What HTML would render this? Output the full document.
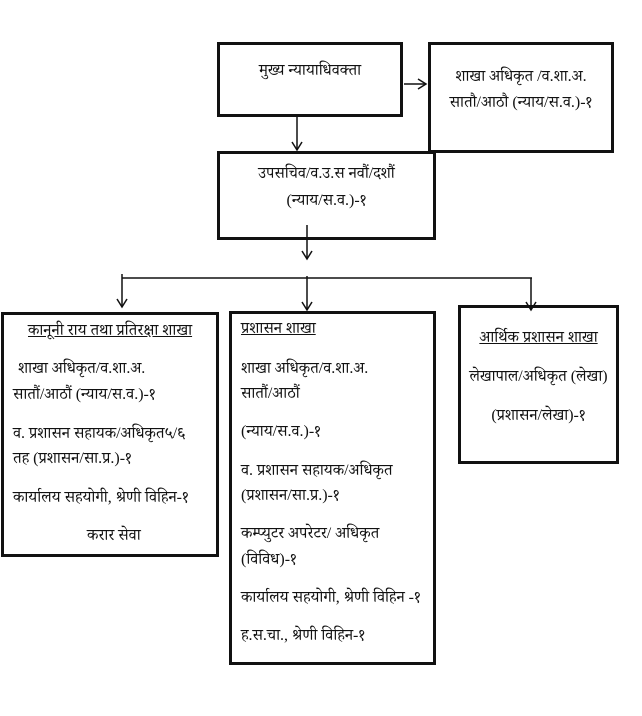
<!DOCTYPE html>
<html><head><meta charset="utf-8"><style>
body{margin:0;background:#fff;width:642px;height:716px;position:relative;overflow:hidden;font-family:"Liberation Serif","Noto Serif Devanagari","Noto Sans Devanagari",serif;font-size:16px;color:#111}
.b{position:absolute;border:3px solid #111;box-sizing:border-box}
.t{position:absolute;white-space:nowrap;line-height:16px}
.c{text-align:center}
u{text-decoration:underline}
svg{position:absolute;left:0;top:0}
</style></head><body>
<div class="b" style="left:217px;top:42px;width:186px;height:75px"></div>
<div class="b" style="left:428px;top:42px;width:186px;height:111px"></div>
<div class="b" style="left:217px;top:151px;width:219px;height:89px"></div>
<div class="b" style="left:1px;top:312px;width:218px;height:245px"></div>
<div class="b" style="left:229px;top:311px;width:207px;height:354px"></div>
<div class="b" style="left:458px;top:305px;width:161px;height:159px"></div>
<svg width="642" height="716">
<g stroke="#111" stroke-width="1.5" fill="none">
<line x1="297" y1="117" x2="297" y2="150"/><polyline points="292,142 297,150 302,142"/>
<line x1="404" y1="84" x2="426" y2="84"/><polyline points="418,79 426,84 418,89"/>
<line x1="307" y1="225" x2="307" y2="259"/><polyline points="302,251 307,259 312,251"/>
<line x1="122" y1="278" x2="532" y2="278"/>
<line x1="122" y1="274" x2="122" y2="307"/><polyline points="117,299 122,307 127,299"/>
<line x1="307" y1="276" x2="307" y2="310"/><polyline points="302,302 307,310 312,302"/>
<line x1="531" y1="278" x2="531" y2="310"/><polyline points="526,302 531,310 536,302"/>
</g></svg>
<div class="t c" style="left:217px;width:186px;top:63px">मुख्य न्यायाधिवक्ता</div>
<div class="t c" style="left:428px;width:186px;top:69px">शाखा अधिकृत /व.शा.अ.</div>
<div class="t c" style="left:428px;width:186px;top:95px">सातौ/आठौ (न्याय/स.व.)-१</div>
<div class="t c" style="left:217px;width:219px;top:166px">उपसचिव/व.उ.स नवौं/दशौं</div>
<div class="t c" style="left:217px;width:219px;top:193px">(न्याय/स.व.)-१</div>

<div class="t" style="left:28px;top:323px"><u>कानूनी राय तथा प्रतिरक्षा शाखा</u></div>
<div class="t" style="left:18px;top:361px">शाखा अधिकृत/व.शा.अ.</div>
<div class="t" style="left:13px;top:387px">सातौं/आठौं (न्याय/स.व.)-१</div>
<div class="t" style="left:13px;top:426px">व. प्रशासन सहायक/अधिकृत५/६</div>
<div class="t" style="left:13px;top:451px">तह (प्रशासन/सा.प्र.)-१</div>
<div class="t" style="left:13px;top:490px">कार्यालय सहयोगी, श्रेणी विहिन-१</div>
<div class="t" style="left:87px;top:528px">करार सेवा</div>

<div class="t" style="left:241px;top:321px"><u>प्रशासन शाखा</u></div>
<div class="t" style="left:241px;top:361px">शाखा अधिकृत/व.शा.अ.</div>
<div class="t" style="left:241px;top:386px">सातौं/आठौं</div>
<div class="t" style="left:241px;top:424px">(न्याय/स.व.)-१</div>
<div class="t" style="left:241px;top:463px">व. प्रशासन सहायक/अधिकृत</div>
<div class="t" style="left:241px;top:488px">(प्रशासन/सा.प्र.)-१</div>
<div class="t" style="left:241px;top:526px">कम्प्युटर अपरेटर/ अधिकृत</div>
<div class="t" style="left:241px;top:552px">(विविध)-१</div>
<div class="t" style="left:241px;top:590px">कार्यालय सहयोगी, श्रेणी विहिन -१</div>
<div class="t" style="left:241px;top:628px">ह.स.चा., श्रेणी विहिन-१</div>

<div class="t c" style="left:458px;width:161px;top:330px"><u>आर्थिक प्रशासन शाखा</u></div>
<div class="t c" style="left:458px;width:161px;top:369px">लेखापाल/अधिकृत (लेखा)</div>
<div class="t c" style="left:458px;width:161px;top:408px">(प्रशासन/लेखा)-१</div>
</body></html>
